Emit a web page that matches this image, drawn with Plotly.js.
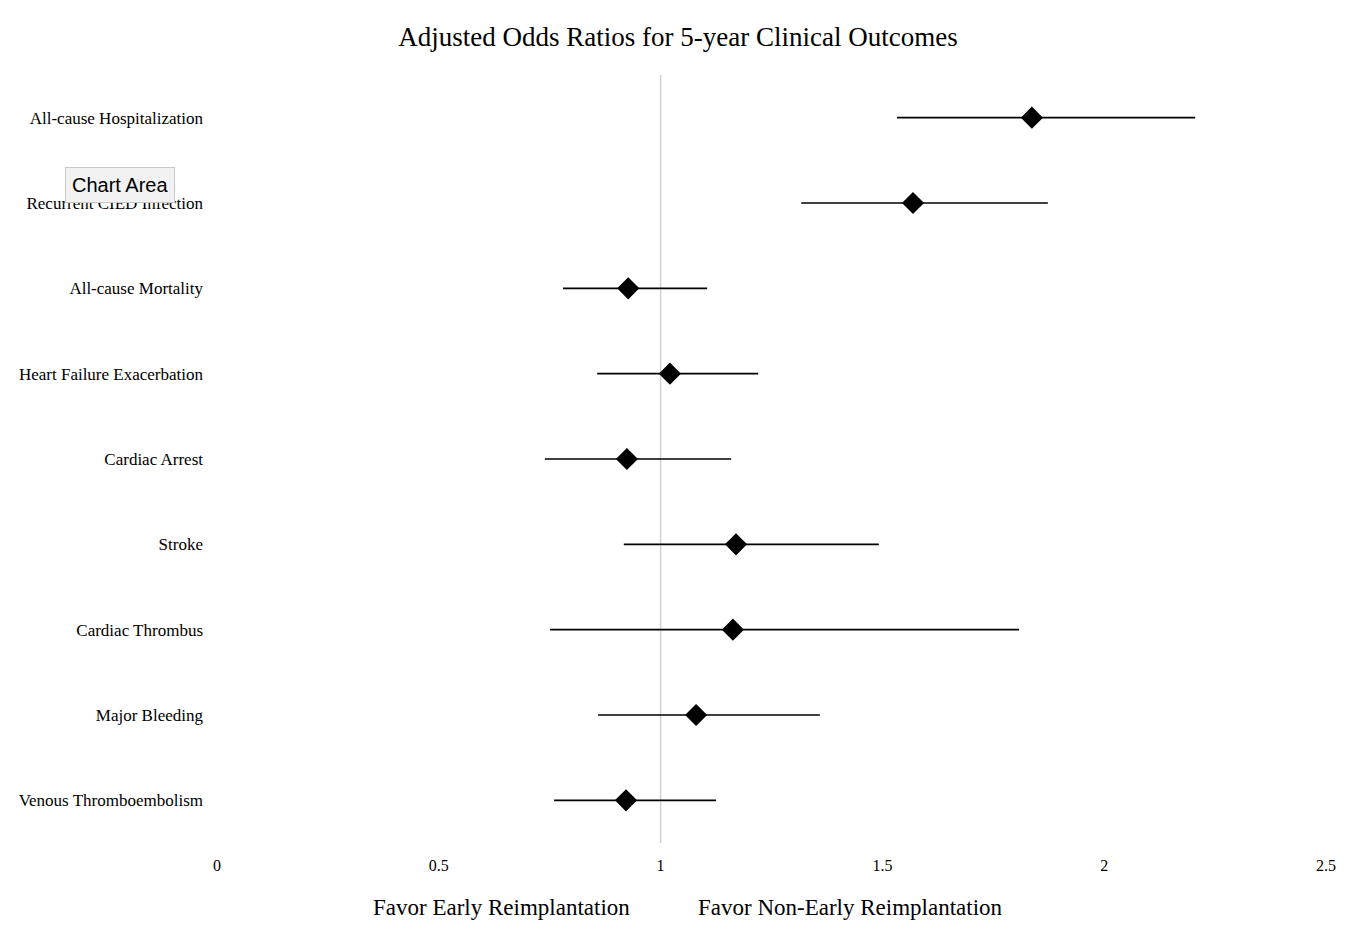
<!DOCTYPE html>
<html>
<head>
<meta charset="utf-8">
<script src="https://cdn.plot.ly/plotly-3.0.1.min.js"></script>
<style>html,body{margin:0;padding:0;background:#fff;}#chart{width:1356px;height:952px;}</style>
</head>
<body>
<div id="chart"></div>
<script>
const outcomes = ["All-cause Hospitalization","Recurrent CIED Infection","All-cause Mortality","Heart Failure Exacerbation","Cardiac Arrest","Stroke","Cardiac Thrombus","Major Bleeding","Venous Thromboembolism"];
const oddsRatio = [1.837, 1.569, 0.927, 1.021, 0.924, 1.170, 1.163, 1.080, 0.922];
const ciLower  = [1.533, 1.317, 0.780, 0.857, 0.739, 0.917, 0.751, 0.859, 0.760];
const ciUpper  = [2.205, 1.873, 1.105, 1.220, 1.159, 1.492, 1.808, 1.359, 1.125];
const xTicks = [0, 0.5, 1, 1.5, 2, 2.5];
const xTickLabels = ["0","0.5","1","1.5","2","2.5"];
const referenceOR = 1;

const errPlus = oddsRatio.map((v,i)=>ciUpper[i]-v);
const errMinus = oddsRatio.map((v,i)=>v-ciLower[i]);

const serif = "Liberation Serif, Times New Roman, serif";

const trace = {
  type: "scatter",
  mode: "markers",
  x: oddsRatio,
  y: outcomes,
  marker: {symbol: "diamond", size: 17, color: "#000"},
  error_x: {type: "data", symmetric: false, array: errPlus, arrayminus: errMinus, width: 0, thickness: 1.6, color: "#000"},
  hoverinfo: "x+y",
  showlegend: false
};

const layout = {
  width: 1356, height: 952,
  margin: {l: 217, r: 30, t: 75, b: 109},
  paper_bgcolor: "#fff", plot_bgcolor: "#fff",
  title: {text: "Adjusted Odds Ratios for 5-year Clinical Outcomes", x: 0.5, xref: "container", y: 0.962, yanchor: "middle", font: {family: serif, size: 27, color: "#000"}},
  xaxis: {range: [0, 2.5], tickvals: xTicks, ticktext: xTickLabels, showgrid: false, zeroline: false, showline: false, ticks: "", ticklabelstandoff: 11, tickfont: {family: serif, size: 16, color: "#000"}, fixedrange: true},
  yaxis: {type: "category", categoryorder: "array", categoryarray: outcomes, range: [8.5, -0.5], showgrid: false, zeroline: false, showline: false, ticks: "", ticklabelstandoff: 13, tickfont: {family: serif, size: 17, color: "#000"}, fixedrange: true},
  shapes: [{type: "line", xref: "x", yref: "paper", x0: referenceOR, x1: referenceOR, y0: 0, y1: 1, line: {color: "#d0d0d0", width: 1.5}, layer: "below"}],
  annotations: [
    {text: "Favor Early Reimplantation", xref: "paper", yref: "paper", x: (501-217)/1109, y: -(907-843)/768, xanchor: "center", yanchor: "middle", showarrow: false, font: {family: serif, size: 23, color: "#000"}},
    {text: "Favor Non-Early Reimplantation", xref: "paper", yref: "paper", x: (850-217)/1109, y: -(907-843)/768, xanchor: "center", yanchor: "middle", showarrow: false, font: {family: serif, size: 23, color: "#000"}},
    {text: "Chart Area", xref: "paper", yref: "paper", x: (120-217)/1109, y: (843-185)/768, xanchor: "center", yanchor: "middle", showarrow: false, bgcolor: "#f2f2f2", bordercolor: "#c8c8c8", borderwidth: 1, borderpad: 6, font: {family: "Liberation Sans, Arial, sans-serif", size: 20, color: "#000"}}
  ]
};

Plotly.newPlot("chart", [trace], layout, {displayModeBar: false, staticPlot: true});
</script>
</body>
</html>
